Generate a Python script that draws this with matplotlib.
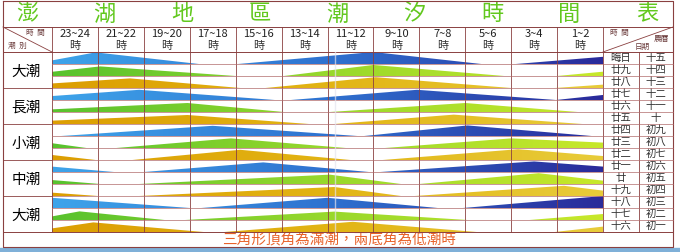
import numpy as np
import matplotlib.pyplot as plt
from matplotlib.colors import LinearSegmentedColormap
from matplotlib.patches import Polygon

plt.rcParams['font.family'] = ['Noto Sans CJK TC', 'DejaVu Sans']

title_chars = ['澎', '湖', '地', '區', '潮', '汐', '時', '間', '表']
hour_labels = ['23~24', '21~22', '19~20', '17~18', '15~16', '13~14',
               '11~12', '9~10', '7~8', '5~6', '3~4', '1~2']
tide_groups = ['大潮', '長潮', '小潮', '中潮', '大潮']
lunar_a = ['晦日', '廿九', '廿八', '廿七', '廿六', '廿五', '廿四', '廿三',
           '廿二', '廿一', '廿', '十九', '十八', '十七', '十六']
lunar_b = ['十五', '十四', '十三', '十二', '十一', '十', '初九', '初八',
           '初七', '初六', '初五', '初四', '初三', '初二', '初一']
note = '三角形頂角為滿潮，兩底角為低潮時'

# time of day (hours, 24 -> 0 left to right) and triangle height (0..1 of row)
tide_times = [
    [24, 22.1, 17.6, 15.9, 10.0, 5.3, 3.8, 0],
    [24, 21.9, 16.0, 13.9, 10.0, 4.3, 2.0, 0],
    [24, 20.6, 15.8, 14.7, 9.9, 4.0, 2.1, 0],
    [24, 20.2, 14.3, 13.6, 8.1, 2.05, 0],
    [24, 18.1, 13.9, 11.9, 6.0, 1.1, 0],
    [24, 18.1, 12.8, 11.7, 6.5, 0.9, 0],
    [24, 23.6, 17.0, 10.7, 10.4, 5.9, 0.5, 0],
    [24, 22.5, 21.2, 16.2, 11.2, 9.5, 4.0, 0],
    [24, 22.1, 20.5, 15.8, 11.0, 9.6, 3.7, 0],
    [24, 21.3, 20.0, 14.8, 10.2, 9.7, 3.0, 0],
    [24, 21.9, 20.2, 11.9, 8.8, 8.0, 2.8, 0],
    [24, 22.0, 20.2, 11.7, 8.8, 8.2, 1.7, 0],
    [24, 18.0, 17.5, 12.0, 7.2, 6.1, 0],
    [24, 22.8, 19.1, 18.2, 11.7, 5.9, 3.2, 0],
    [24, 22.2, 17.4, 16.5, 10.9, 5.5, 2.1, 0],
]
tide_levels = [
    [0.30, 0.97, 0, 0, 1.00, 0, 0, 0.60],
    [0.35, 0.80, 0, 0, 0.92, 0, 0, 0.36],
    [0.38, 0.80, 0, 0, 0.90, 0, 0, 0.28],
    [0.33, 0.85, 0, 0, 0.85, 0, 0.42],
    [0.22, 0.75, 0, 0, 0.75, 0, 0],
    [0.28, 0.75, 0, 0, 0.78, 0, 0],
    [0, 0, 0.85, 0, 0, 0.88, 0, 0],
    [0.40, 0, 0, 0.80, 0, 0, 0.80, 0.45],
    [0.42, 0, 0, 0.85, 0, 0, 0.90, 0.33],
    [0.45, 0, 0, 0.80, 0, 0, 0.88, 0.45],
    [0.33, 0, 0, 0.78, 0, 0, 0.90, 0.28],
    [0.28, 0, 0, 0.75, 0, 0, 0.85, 0.45],
    [0.85, 0, 0, 0.85, 0, 0, 1.00],
    [0.30, 0.72, 0, 0, 0.70, 0, 0, 0.50],
    [0.30, 0.80, 0, 0, 0.85, 0, 0, 0.45],
]

cmaps = [
    LinearSegmentedColormap.from_list('blue', ['#3ea4ea', '#2f72d0', '#2a2a9a']),
    LinearSegmentedColormap.from_list('green', ['#58c22e', '#98d82c', '#c8e82a']),
    LinearSegmentedColormap.from_list('orange', ['#dc9e02', '#e2b414', '#e8cc3a']),
]

W, H = 680, 252
L, R, T, B = 52, 603, 52, 232
cw = (R - L) / 12
rh = (B - T) / 15
line_c = '#8a4040'

fig = plt.figure(figsize=(6.8, 2.52), dpi=100)
fig.patch.set_facecolor('white')

bg = fig.add_axes([0, 0, 1, 1], zorder=0)
bg.set_xlim(0, W)
bg.set_ylim(H, 0)
bg.axis('off')

ax = fig.add_axes([L / W, (H - B) / H, (R - L) / W, (B - T) / H], zorder=1)
ax.patch.set_alpha(0)

grad = np.linspace(0, 1, 256).reshape(1, -1)
for i in range(15):
    t = np.array(tide_times[i], dtype=float)
    lv = np.array(tide_levels[i], dtype=float)
    top = i + 1 - lv
    verts = np.vstack([np.column_stack([t, top]),
                       np.column_stack([t[::-1], np.full(len(t), i + 1.0)])])
    poly = Polygon(verts, closed=True, facecolor='none', edgecolor='none')
    ax.add_patch(poly)
    im = ax.imshow(grad, extent=(24, 0, i + 1, i), cmap=cmaps[i % 3],
                   aspect='auto', interpolation='bilinear')
    im.set_clip_path(poly)

ax.set_xlim(24, 0)
ax.set_ylim(15, 0)
ax.axis('off')

ov = fig.add_axes([0, 0, 1, 1], zorder=2)
ov.patch.set_alpha(0)
ov.set_xlim(0, W)
ov.set_ylim(H, 0)
ov.axis('off')

# frame
ov.plot([3, 673, 673, 3, 3], [1, 1, 247, 247, 1], color=line_c, lw=0.8)
for y in [27, T, B]:
    ov.plot([3, 673], [y, y], color=line_c, lw=0.7)
for k in range(13):
    ov.plot([L + k * cw] * 2, [27, B], color=line_c, lw=0.6)
ov.plot([639, 639], [T, B], color=line_c, lw=0.6)
for i in range(1, 15):
    ov.plot([L, 673], [T + i * rh] * 2, color='#b06a6a', lw=0.5)
for g in range(1, 5):
    ov.plot([3, L], [T + 3 * g * rh] * 2, color=line_c, lw=0.6)
ov.plot([335, 335], [T, B], color='#e4e4ee', lw=1.0, alpha=0.7)
# diagonals
ov.plot([3, L], [27, T], color=line_c, lw=0.6)
ov.plot([R, 673], [T, 27], color=line_c, lw=0.6)

# title
for k, ch in enumerate(title_chars):
    bg.text(27 + k * 77.5, 14, ch, fontsize=16, color='#62c81e',
            ha='center', va='center')

for k, lab in enumerate(hour_labels):
    x = L + (k + 0.5) * cw
    bg.text(x, 34, lab, fontsize=8, color='#222222', ha='center', va='center')
    bg.text(x, 45.5, '時', fontsize=8, color='#333333', ha='center', va='center')

bg.text(35, 33, '時  間', fontsize=5.5, color='#6a3a3a', ha='center', va='center')
bg.text(17, 46, '潮  別', fontsize=5.5, color='#6a3a3a', ha='center', va='center')
bg.text(619, 33, '時  間', fontsize=5.5, color='#6a3a3a', ha='center', va='center')
bg.text(661, 39, '農曆', fontsize=5.5, color='#6a3a3a', ha='center', va='center')
bg.text(642, 47, '日期', fontsize=5.5, color='#6a3a3a', ha='center', va='center')

for g, lab in enumerate(tide_groups):
    bg.text(26, T + (3 * g + 1.5) * rh + 1.5, lab, fontsize=10.5, color='black',
            ha='center', va='center')

for i in range(15):
    y = T + (i + 0.5) * rh
    bg.text(621, y, lunar_a[i], fontsize=7.5, color='#333333', ha='center', va='center')
    bg.text(656, y, lunar_b[i], fontsize=7.5, color='#333333', ha='center', va='center')

bg.text(339, 240.5, note, fontsize=10.5, color='#e8622a', ha='center', va='center')
bg.fill_between([0, W], 248, 252, color='#7fb0d8')

fig.savefig('out.png', dpi=100)
